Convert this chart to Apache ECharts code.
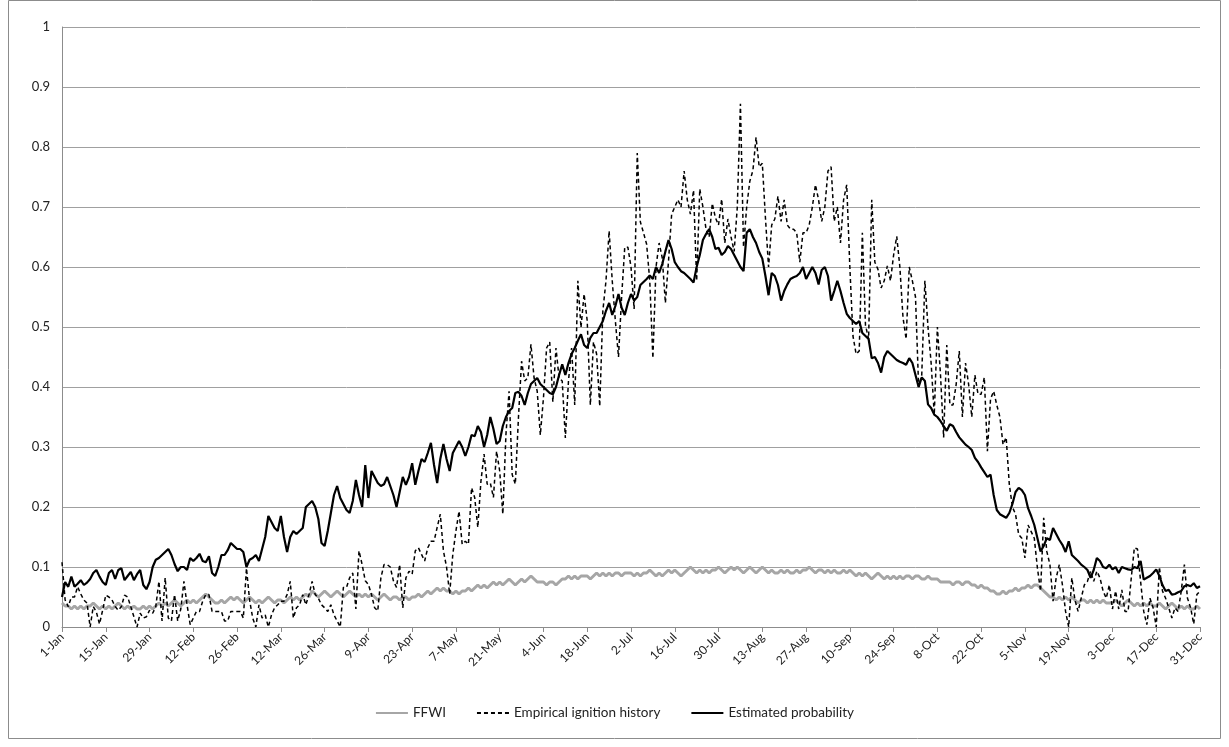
<!DOCTYPE html>
<html>
<head>
<meta charset="utf-8">
<script src="https://cdn.jsdelivr.net/npm/echarts@6/dist/echarts.min.js"></script>
<style>
  html, body { margin: 0; padding: 0; background: #fff; }
  #chart { width: 1229px; height: 747px; }
</style>
</head>
<body>
<div id="chart"></div>
<script>
// day labels for a non-leap year
const monthNames = ['Jan', 'Feb', 'Mar', 'Apr', 'May', 'Jun', 'Jul', 'Aug', 'Sep', 'Oct', 'Nov', 'Dec']
const monthLengths = [31, 28, 31, 30, 31, 30, 31, 31, 30, 31, 30, 31]
const days = []
monthNames.forEach((m, i) => {
  for (let d = 1; d <= monthLengths[i]; d++) days.push(d + '-' + m)
})

const yTicks = [0, 0.1, 0.2, 0.3, 0.4, 0.5, 0.6, 0.7, 0.8, 0.9, 1]

// one row = 14 days (one label step)
const ffwi = [
  0.04,0.035,0.035,0.03,0.035,0.03,0.035,0.03,0.035,0.035,0.04,0.035,0.03,0.035,
  0.03,0.035,0.03,0.035,0.04,0.035,0.03,0.035,0.03,0.035,0.03,0.03,0.035,0.03,
  0.035,0.03,0.035,0.04,0.035,0.04,0.035,0.04,0.045,0.04,0.035,0.04,0.045,0.04,
  0.045,0.04,0.045,0.05,0.055,0.05,0.045,0.04,0.04,0.045,0.04,0.045,0.05,0.045,
  0.05,0.045,0.04,0.045,0.05,0.045,0.04,0.045,0.04,0.045,0.05,0.045,0.04,0.045,
  0.045,0.04,0.045,0.05,0.045,0.05,0.045,0.05,0.055,0.05,0.06,0.055,0.05,0.055,
  0.06,0.055,0.05,0.055,0.06,0.055,0.05,0.055,0.06,0.055,0.05,0.055,0.05,0.055,
  0.05,0.055,0.05,0.045,0.05,0.055,0.05,0.045,0.05,0.05,0.045,0.05,0.05,0.045,
  0.05,0.05,0.055,0.05,0.055,0.06,0.055,0.06,0.065,0.06,0.065,0.06,0.06,0.055,
  0.06,0.055,0.06,0.06,0.065,0.06,0.065,0.07,0.065,0.07,0.065,0.07,0.075,0.07,
  0.075,0.07,0.075,0.08,0.075,0.07,0.075,0.08,0.075,0.08,0.085,0.08,0.075,0.075,
  0.075,0.07,0.075,0.075,0.07,0.075,0.08,0.08,0.085,0.08,0.085,0.08,0.085,0.085,
  0.085,0.08,0.085,0.09,0.085,0.09,0.085,0.09,0.085,0.09,0.09,0.085,0.09,0.09,
  0.09,0.085,0.09,0.085,0.09,0.09,0.095,0.09,0.085,0.09,0.085,0.09,0.095,0.09,
  0.095,0.09,0.085,0.09,0.095,0.1,0.095,0.09,0.095,0.09,0.095,0.09,0.095,0.095,
  0.1,0.095,0.09,0.095,0.1,0.095,0.1,0.095,0.09,0.095,0.1,0.095,0.09,0.095,
  0.1,0.095,0.09,0.095,0.09,0.09,0.095,0.09,0.095,0.09,0.09,0.095,0.09,0.095,
  0.095,0.1,0.095,0.09,0.095,0.095,0.09,0.095,0.09,0.095,0.09,0.09,0.095,0.09,
  0.095,0.09,0.085,0.09,0.085,0.09,0.085,0.08,0.085,0.09,0.085,0.08,0.085,0.08,
  0.085,0.08,0.085,0.08,0.085,0.085,0.08,0.085,0.085,0.08,0.08,0.085,0.08,0.08,
  0.08,0.075,0.075,0.075,0.075,0.07,0.075,0.075,0.07,0.075,0.075,0.07,0.07,0.065,
  0.07,0.065,0.065,0.06,0.06,0.055,0.055,0.06,0.055,0.06,0.06,0.065,0.06,0.065,
  0.065,0.07,0.065,0.07,0.07,0.065,0.06,0.055,0.05,0.05,0.045,0.05,0.045,0.05,
  0.045,0.05,0.045,0.04,0.045,0.045,0.04,0.045,0.04,0.045,0.04,0.045,0.04,0.04,
  0.04,0.045,0.04,0.035,0.04,0.045,0.04,0.035,0.04,0.035,0.04,0.035,0.04,0.035,
  0.035,0.04,0.035,0.03,0.035,0.04,0.035,0.03,0.035,0.03,0.035,0.03,0.03,0.035,
  0.03
]

const empirical = [
  0.108,0.045,0.034,0.05,0.05,0.067,0.055,0.045,0.04,0,0.034,0.025,0.005,0.028,
  0.053,0.05,0.045,0.034,0.028,0.034,0.053,0.05,0.034,0.017,0,0.023,0.015,0.017,
  0.028,0.023,0.034,0.076,0.01,0.082,0.015,0.01,0.054,0.01,0.03,0.076,0.037,0.004,
  0.015,0.026,0.026,0.043,0.054,0.054,0.026,0.026,0.026,0.026,0.01,0.01,0.026,0.026,
  0.026,0.026,0.015,0.098,0.045,0.015,0,0.037,0.015,0.02,0,0.02,0.032,0.037,
  0.043,0.043,0.054,0.076,0.015,0.032,0.037,0.054,0.037,0.054,0.076,0.054,0.048,0.037,
  0.032,0.026,0.037,0.02,0.01,0,0.066,0.066,0.082,0.09,0.03,0.127,0.104,0.077,
  0.071,0.054,0.032,0.027,0.082,0.104,0.104,0.1,0.077,0.066,0.104,0.032,0.082,0.093,
  0.088,0.127,0.132,0.121,0.11,0.132,0.143,0.143,0.166,0.188,0.127,0.1,0.055,0.121,
  0.16,0.193,0.138,0.143,0.138,0.232,0.216,0.166,0.243,0.288,0.238,0.24,0.216,0.293,
  0.26,0.188,0.321,0.393,0.254,0.238,0.349,0.443,0.41,0.415,0.471,0.415,0.393,0.32,
  0.382,0.465,0.475,0.375,0.465,0.415,0.41,0.315,0.41,0.465,0.37,0.577,0.499,0.555,
  0.51,0.37,0.475,0.455,0.368,0.527,0.577,0.66,0.577,0.51,0.45,0.55,0.633,0.633,
  0.6,0.53,0.79,0.675,0.657,0.638,0.577,0.448,0.6,0.64,0.615,0.54,0.61,0.688,
  0.7,0.712,0.7,0.76,0.712,0.688,0.728,0.577,0.73,0.7,0.663,0.65,0.706,0.682,
  0.67,0.713,0.64,0.68,0.65,0.626,0.7,0.872,0.633,0.7,0.743,0.761,0.816,0.767,
  0.773,0.682,0.6,0.67,0.68,0.718,0.676,0.712,0.67,0.663,0.663,0.657,0.608,0.657,
  0.657,0.67,0.7,0.737,0.712,0.676,0.7,0.76,0.767,0.676,0.7,0.64,0.712,0.737,
  0.6,0.485,0.455,0.46,0.657,0.503,0.48,0.712,0.608,0.596,0.565,0.577,0.602,0.577,
  0.62,0.651,0.6,0.516,0.48,0.6,0.577,0.55,0.4,0.42,0.577,0.5,0.44,0.354,
  0.5,0.42,0.316,0.47,0.37,0.37,0.404,0.46,0.35,0.44,0.404,0.35,0.42,0.388,
  0.388,0.416,0.293,0.38,0.393,0.37,0.35,0.304,0.316,0.238,0.2,0.188,0.154,0.148,
  0.115,0.17,0.159,0.148,0.098,0.06,0.182,0.126,0.104,0.043,0.082,0.104,0.07,0.026,
  0,0.082,0.045,0.026,0.048,0.07,0.076,0.093,0.076,0.093,0.082,0.06,0.048,0.07,
  0.03,0.06,0.03,0.062,0.026,0.026,0.081,0.132,0.13,0.076,0.026,0.004,0.048,0.032,
  0,0.1,0.06,0.048,0.032,0.015,0.032,0.026,0.06,0.104,0.048,0.032,0.005,0.054,
  0.06
]

const estimated = [
  0.05,0.075,0.067,0.084,0.067,0.072,0.078,0.07,0.074,0.08,0.09,0.095,0.084,0.075,
  0.07,0.09,0.095,0.08,0.095,0.098,0.078,0.085,0.092,0.078,0.088,0.095,0.07,0.063,
  0.075,0.1,0.112,0.115,0.12,0.125,0.13,0.12,0.105,0.093,0.1,0.1,0.095,0.115,
  0.11,0.115,0.122,0.11,0.108,0.118,0.09,0.085,0.1,0.12,0.12,0.128,0.14,0.135,
  0.13,0.13,0.125,0.1,0.112,0.115,0.12,0.11,0.13,0.15,0.185,0.175,0.165,0.16,
  0.185,0.15,0.125,0.15,0.16,0.155,0.16,0.165,0.2,0.205,0.21,0.2,0.18,0.14,
  0.135,0.16,0.19,0.22,0.235,0.215,0.205,0.195,0.19,0.21,0.245,0.22,0.2,0.27,
  0.215,0.26,0.25,0.24,0.235,0.238,0.25,0.235,0.22,0.2,0.225,0.25,0.237,0.25,
  0.273,0.237,0.26,0.28,0.275,0.29,0.307,0.27,0.24,0.28,0.305,0.28,0.26,0.29,
  0.3,0.31,0.3,0.285,0.3,0.32,0.318,0.335,0.325,0.3,0.32,0.35,0.33,0.305,
  0.31,0.335,0.35,0.36,0.365,0.39,0.392,0.385,0.37,0.39,0.405,0.41,0.415,0.405,
  0.4,0.395,0.39,0.388,0.4,0.42,0.438,0.42,0.44,0.455,0.465,0.477,0.488,0.47,
  0.465,0.482,0.49,0.49,0.5,0.51,0.527,0.54,0.52,0.535,0.555,0.532,0.52,0.54,
  0.555,0.544,0.55,0.57,0.575,0.58,0.586,0.58,0.6,0.59,0.605,0.626,0.645,0.63,
  0.608,0.6,0.593,0.59,0.585,0.58,0.574,0.6,0.62,0.645,0.655,0.663,0.65,0.63,
  0.632,0.62,0.625,0.635,0.63,0.62,0.61,0.6,0.593,0.657,0.663,0.65,0.64,0.625,
  0.614,0.585,0.553,0.59,0.585,0.57,0.544,0.56,0.571,0.58,0.583,0.585,0.59,0.6,
  0.58,0.59,0.6,0.59,0.571,0.595,0.6,0.585,0.544,0.56,0.577,0.56,0.54,0.522,
  0.515,0.51,0.505,0.51,0.49,0.485,0.48,0.448,0.45,0.44,0.424,0.45,0.46,0.455,
  0.45,0.445,0.442,0.44,0.437,0.448,0.44,0.42,0.4,0.416,0.41,0.371,0.365,0.354,
  0.35,0.343,0.335,0.327,0.338,0.335,0.325,0.316,0.31,0.304,0.3,0.295,0.282,0.275,
  0.266,0.258,0.25,0.254,0.22,0.195,0.188,0.185,0.182,0.19,0.205,0.225,0.232,0.228,
  0.22,0.198,0.185,0.17,0.148,0.126,0.135,0.148,0.145,0.165,0.155,0.145,0.137,0.125,
  0.143,0.12,0.115,0.11,0.104,0.1,0.095,0.082,0.095,0.115,0.11,0.1,0.098,0.104,
  0.096,0.1,0.09,0.1,0.098,0.096,0.095,0.1,0.098,0.11,0.079,0.082,0.085,0.09,
  0.096,0.085,0.07,0.06,0.062,0.054,0.055,0.058,0.06,0.068,0.07,0.068,0.073,0.065,
  0.068
]

const font = 'Lato'
const chart = echarts.init(document.getElementById('chart'))

const option = {
  animation: false,
  backgroundColor: '#fff',
  textStyle: { fontFamily: font },
  graphic: [{
    type: 'rect',
    shape: { x: 8.5, y: 0.5, width: 1212, height: 738 },
    style: { fill: 'none', stroke: '#8c8c8c', lineWidth: 1 },
    silent: true
  }],
  grid: { left: 62, right: 29, top: 27, bottom: 120 },
  legend: {
    bottom: 22,
    left: 'center',
    itemWidth: 32,
    itemHeight: 12,
    itemGap: 30,
    itemStyle: { opacity: 0 },
    textStyle: { fontFamily: font, fontSize: 13.5, color: '#222' },
    data: ['FFWI', 'Empirical ignition history', 'Estimated probability']
  },
  xAxis: {
    type: 'category',
    data: days,
    boundaryGap: false,
    axisLine: { lineStyle: { color: '#8c8c8c', width: 1 } },
    axisTick: { show: true, interval: 13, length: 5, lineStyle: { color: '#8c8c8c' } },
    axisLabel: { interval: 13, rotate: 45, fontSize: 12, color: '#222', fontFamily: font, margin: 8 },
    splitLine: { show: false }
  },
  yAxis: {
    type: 'value',
    min: yTicks[0],
    max: yTicks[yTicks.length - 1],
    interval: 0.1,
    axisLine: { show: true, lineStyle: { color: '#8c8c8c' } },
    axisTick: { show: false },
    axisLabel: {
      fontSize: 13, color: '#222', fontFamily: font, margin: 12,
      formatter: v => String(+v.toFixed(1))
    },
    splitLine: { show: true, lineStyle: { color: '#a0a0a0', width: 1 } }
  },
  series: [
    {
      name: 'FFWI',
      type: 'line',
      data: ffwi,
      symbol: 'none',
      lineStyle: { color: '#a6a6a6', width: 3 },
      itemStyle: { color: '#a6a6a6' }
    },
    {
      name: 'Empirical ignition history',
      type: 'line',
      data: empirical,
      symbol: 'none',
      lineStyle: { color: '#000', width: 1.5, type: [4, 3] },
      itemStyle: { color: '#000' }
    },
    {
      name: 'Estimated probability',
      type: 'line',
      data: estimated,
      symbol: 'none',
      lineStyle: { color: '#000', width: 2.2 },
      itemStyle: { color: '#000' }
    }
  ]
}
chart.setOption(option)
</script>
</body>
</html>
